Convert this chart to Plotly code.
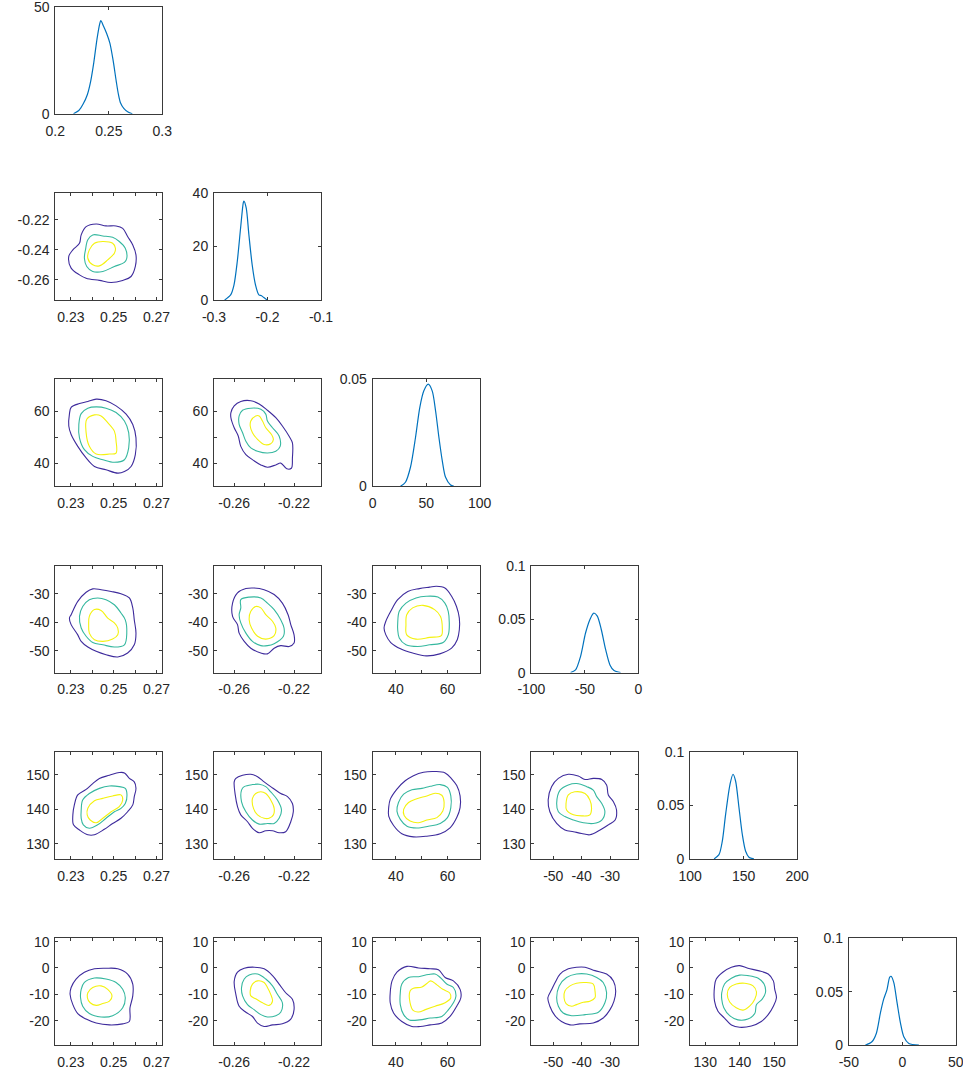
import plotly.graph_objects as go

# ---------------- data ----------------
# axis ranges of the six parameters (off-diagonal panels)
P_RANGE = {1: [0.2227, 0.2727], 2: [-0.2735, -0.2020], 3: [31.0, 72.5],
           4: [-57.7, -20.0], 5: [125.6, 156.7], 6: [-29.3, 11.3]}
# tick values / labels when the parameter is on the x axis
X_TICKS = {1: ([0.23, 0.24, 0.25, 0.26, 0.27], ["0.23", "", "0.25", "", "0.27"]),
           2: ([-0.26, -0.24, -0.22], ["-0.26", "", "-0.22"]),
           3: ([40, 50, 60], ["40", "", "60"]),
           4: ([-50, -40, -30], ["-50", "-40", "-30"]),
           5: ([130, 140, 150], ["130", "140", "150"])}
# tick values / labels when the parameter is on the y axis
Y_TICKS = {2: ([-0.26, -0.24, -0.22], ["-0.26", "-0.24", "-0.22"]),
           3: ([40, 50, 60], ["40", "", "60"]),
           4: ([-50, -40, -30], ["-50", "-40", "-30"]),
           5: ([130, 140, 150], ["130", "140", "150"]),
           6: ([-20, -10, 0, 10], ["-20", "-10", "0", "10"])}

# diagonal (marginal density) panels
DIAG_XRANGE = {1: [0.2, 0.3], 2: [-0.3, -0.1], 3: [0, 100], 4: [-100, 0], 5: [100, 200], 6: [-50, 50]}
DIAG_YRANGE = {1: [0, 50], 2: [0, 40], 3: [0, 0.05], 4: [0, 0.1], 5: [0, 0.1], 6: [0, 0.1]}
DIAG_XTICKS = {1: ([0.2, 0.25, 0.3], ["0.2", "0.25", "0.3"]),
               2: ([-0.3, -0.2, -0.1], ["-0.3", "-0.2", "-0.1"]),
               3: ([0, 50, 100], ["0", "50", "100"]),
               4: ([-100, -50, 0], ["-100", "-50", "0"]),
               5: ([100, 150, 200], ["100", "150", "200"]),
               6: ([-50, 0, 50], ["-50", "0", "50"])}
DIAG_YTICKS = {1: ([0, 50], ["0", "50"]),
               2: ([0, 20, 40], ["0", "20", "40"]),
               3: ([0, 0.05], ["0", "0.05"]),
               4: ([0, 0.05, 0.1], ["0", "0.05", "0.1"]),
               5: ([0, 0.05, 0.1], ["0", "0.05", "0.1"]),
               6: ([0, 0.05, 0.1], ["0", "0.05", "0.1"])}

D1_X = [0.217, 0.222, 0.226, 0.230, 0.233, 0.236, 0.239, 0.2415, 0.2425, 0.245, 0.248, 0.251, 0.254, 0.257, 0.259, 0.261, 0.264, 0.268, 0.272]
D1_Y = [0, 1.5, 4.5, 9, 15, 24, 35, 42, 43.5, 41, 37.5, 33, 25, 15, 9, 5, 2.5, 0.8, 0]
D2_X = [-0.2801, -0.2689, -0.2627, -0.2565, -0.2503, -0.2453, -0.2441, -0.2398, -0.2348, -0.2286, -0.2224, -0.2161, -0.2112, -0.2068, -0.2006]
D2_Y = [0, 1.9, 5.6, 14.4, 26.9, 36.3, 37.0, 34.4, 24.4, 13.1, 5.6, 1.9, 1.6, 0.9, 0]
D3_X = [26, 30.6, 35.3, 40, 44, 47.8, 51.9, 55.6, 58.75, 61.9, 65, 68.1, 72.8, 75.9]
D3_Y = [0, 0.0019, 0.0089, 0.0228, 0.0368, 0.0446, 0.0477, 0.0446, 0.0353, 0.0228, 0.012, 0.0042, 0.0006, 0]
D4_X = [-63.4, -58.75, -54.1, -49.4, -45.3, -42.2, -41.6, -38.4, -34.7, -30.6, -26.6, -22.8, -16.6]
D4_Y = [0, 0.0025, 0.015, 0.037, 0.0497, 0.0553, 0.0557, 0.0528, 0.0403, 0.0214, 0.0072, 0.0019, 0]
D5_X = [122.4, 127, 130.1, 133.2, 137.3, 140.1, 142.5, 145.7, 148.8, 151.9, 155, 159.6]
D5_Y = [0, 0.004, 0.0166, 0.0416, 0.0697, 0.0791, 0.0728, 0.0478, 0.0228, 0.0072, 0.0016, 0]
D6_X = [-34.6, -28.4, -24.3, -20.5, -17.4, -14.3, -11.8, -10.5, -8, -4.9, -1.7, 1.4, 6.1, 15.5]
D6_Y = [0, 0.0032, 0.011, 0.030, 0.043, 0.052, 0.0635, 0.0644, 0.0587, 0.0397, 0.0206, 0.0079, 0.0016, 0]

# contour lines: [outer, middle, inner] for each (row param, column param)
C21_X = [[0.2371, 0.2418, 0.2464, 0.2511, 0.2542, 0.2565, 0.2589, 0.2604, 0.2601, 0.2581, 0.2542, 0.2488, 0.2433, 0.2371, 0.2340, 0.2301, 0.2290, 0.2309, 0.2340, 0.2348],
         [0.2379, 0.2402, 0.2449, 0.2495, 0.2526, 0.2554, 0.2561, 0.2550, 0.2503, 0.2449, 0.2402, 0.2374, 0.2363, 0.2368],
         [0.2410, 0.2449, 0.2495, 0.2508, 0.2503, 0.2472, 0.2433, 0.2402, 0.2379, 0.2386]]
C21_Y = [[-0.2245, -0.2227, -0.2240, -0.2240, -0.2256, -0.2311, -0.2367, -0.2433, -0.2511, -0.2578, -0.2604, -0.2618, -0.2604, -0.2589, -0.2567, -0.2522, -0.2444, -0.2400, -0.2356, -0.2300],
         [-0.2333, -0.2300, -0.2307, -0.2316, -0.2344, -0.2389, -0.2456, -0.2484, -0.2511, -0.2544, -0.2544, -0.2511, -0.2456, -0.2400],
         [-0.2356, -0.2344, -0.2356, -0.2389, -0.2422, -0.2467, -0.2507, -0.2500, -0.2456, -0.2400]]

C31_X = [[0.2301, 0.2340, 0.2379, 0.2418, 0.2464, 0.2511, 0.2558, 0.2589, 0.2604, 0.2601, 0.2581, 0.2550, 0.2519, 0.2464, 0.2410, 0.2371, 0.2332, 0.2301, 0.2290, 0.2293],
         [0.2348, 0.2379, 0.2418, 0.2464, 0.2511, 0.2550, 0.2570, 0.2570, 0.2550, 0.2503, 0.2449, 0.2402, 0.2363, 0.2340, 0.2337],
         [0.2374, 0.2410, 0.2441, 0.2472, 0.2503, 0.2511, 0.2511, 0.2480, 0.2418, 0.2386, 0.2371]]
C31_Y = [[61.6, 63.1, 63.9, 64.8, 64.2, 62.2, 59.0, 55.0, 49.8, 43.3, 38.7, 36.7, 36.1, 37.4, 38.7, 42.0, 46.5, 51.1, 54.4, 59.0],
         [59.2, 61.3, 61.8, 61.3, 59.6, 56.3, 51.8, 45.9, 41.3, 40.3, 41.3, 42.6, 45.2, 49.8, 55.0],
         [57.0, 58.7, 58.3, 55.7, 52.4, 48.5, 43.9, 43.5, 43.5, 46.5, 51.8]]

C32_X = [[-0.2622, -0.2600, -0.2556, -0.2489, -0.2433, -0.2378, -0.2322, -0.2278, -0.2233, -0.2211, -0.2211, -0.2218, -0.2249, -0.2289, -0.2322, -0.2378, -0.2422, -0.2467, -0.2522, -0.2556, -0.2573, -0.2600, -0.2622],
         [-0.2567, -0.2544, -0.2489, -0.2422, -0.2389, -0.2378, -0.2344, -0.2300, -0.2293, -0.2322, -0.2378, -0.2444, -0.2489, -0.2522, -0.2544, -0.2567],
         [-0.2489, -0.2456, -0.2433, -0.2411, -0.2389, -0.2351, -0.2338, -0.2356, -0.2400, -0.2444, -0.2478, -0.2493]]
C32_Y = [[59.6, 62.2, 63.9, 64.2, 62.9, 60.5, 57.6, 54.4, 50.4, 47.8, 42.0, 38.0, 37.8, 40.0, 39.3, 38.4, 39.3, 40.9, 43.3, 46.5, 50.5, 53.7, 57.6],
         [58.3, 60.5, 61.3, 60.9, 59.0, 56.3, 53.7, 50.5, 46.5, 44.6, 43.9, 44.6, 45.9, 48.5, 51.8, 55.0],
         [56.3, 58.3, 58.3, 56.3, 53.7, 51.1, 49.2, 47.5, 47.2, 49.2, 51.8, 54.4]]

C41_X = [[0.2301, 0.2332, 0.2371, 0.2402, 0.2441, 0.2488, 0.2534, 0.2573, 0.2589, 0.2596, 0.2604, 0.2596, 0.2565, 0.2519, 0.2464, 0.2418, 0.2379, 0.2348, 0.2332, 0.2301, 0.2293],
         [0.2340, 0.2355, 0.2386, 0.2425, 0.2464, 0.2503, 0.2534, 0.2554, 0.2561, 0.2550, 0.2503, 0.2449, 0.2402, 0.2371, 0.2348],
         [0.2386, 0.2410, 0.2441, 0.2472, 0.2503, 0.2519, 0.2519, 0.2495, 0.2449, 0.2410, 0.2386, 0.2383]]
C41_Y = [[-37.3, -32.6, -29.4, -28.2, -28.5, -29.1, -29.9, -31.4, -34.9, -39.1, -43.8, -47.9, -50.8, -52.2, -51.4, -50.2, -48.7, -46.7, -44.4, -40.8, -38.5],
         [-37.9, -34.4, -32.0, -31.4, -32.0, -33.8, -36.7, -39.1, -43.8, -47.9, -48.7, -47.9, -47.1, -44.9, -42.0],
         [-37.9, -35.5, -35.8, -38.5, -40.2, -42.0, -44.4, -45.9, -46.7, -46.1, -43.8, -40.8]]

C42_X = [[-0.2611, -0.2578, -0.2522, -0.2467, -0.2400, -0.2333, -0.2278, -0.2240, -0.2222, -0.2200, -0.2200, -0.2233, -0.2289, -0.2333, -0.2378, -0.2422, -0.2489, -0.2533, -0.2567, -0.2578, -0.2611],
         [-0.2556, -0.2556, -0.2500, -0.2422, -0.2378, -0.2333, -0.2289, -0.2267, -0.2271, -0.2333, -0.2378, -0.2422, -0.2478, -0.2522, -0.2556, -0.2567],
         [-0.2489, -0.2456, -0.2422, -0.2389, -0.2344, -0.2322, -0.2333, -0.2389, -0.2444, -0.2484, -0.2500]]
C42_Y = [[-33.2, -29.6, -28.1, -27.9, -28.5, -30.2, -33.2, -37.3, -40.8, -44.4, -47.3, -48.5, -48.2, -49.1, -51.1, -50.8, -49.1, -46.7, -43.8, -40.8, -37.9],
         [-34.9, -32.0, -31.1, -31.4, -33.2, -35.5, -39.1, -42.0, -44.9, -47.5, -48.2, -48.2, -46.7, -43.8, -40.2, -37.3],
         [-36.1, -34.4, -34.9, -37.3, -39.6, -42.0, -44.7, -45.9, -44.9, -42.0, -39.1]]

C43_X = [[36.1, 38.0, 40.7, 44.6, 49.1, 53.1, 55.7, 59.0, 61.6, 63.5, 64.6, 64.6, 63.8, 61.6, 57.0, 51.8, 46.5, 42.0, 38.0, 36.1, 35.4],
         [40.7, 41.3, 43.9, 47.8, 51.8, 56.3, 59.0, 60.3, 60.7, 60.3, 58.3, 53.1, 48.5, 43.9, 41.3, 40.7],
         [44.2, 46.5, 50.5, 55.0, 57.3, 58.0, 57.6, 53.1, 47.8, 44.2, 43.9]]
C43_Y = [[-39.6, -36.1, -32.0, -29.1, -28.1, -27.6, -27.3, -27.9, -30.8, -34.4, -38.5, -42.6, -46.1, -49.1, -51.1, -51.8, -50.8, -49.4, -47.1, -44.4, -42.0],
         [-40.2, -36.1, -33.2, -31.4, -30.8, -31.1, -33.2, -36.1, -40.2, -44.4, -47.1, -47.9, -48.5, -47.9, -45.5, -42.6],
         [-37.3, -34.9, -34.0, -35.5, -37.9, -42.0, -44.7, -45.3, -45.9, -44.4, -40.8]]

C51_X = [[0.2316, 0.2332, 0.2371, 0.2402, 0.2433, 0.2480, 0.2526, 0.2550, 0.2573, 0.2596, 0.2604, 0.2596, 0.2589, 0.2565, 0.2534, 0.2495, 0.2456, 0.2410, 0.2379, 0.2340, 0.2312, 0.2309],
         [0.2348, 0.2355, 0.2386, 0.2433, 0.2480, 0.2526, 0.2554, 0.2562, 0.2554, 0.2534, 0.2503, 0.2464, 0.2425, 0.2386, 0.2358, 0.2348],
         [0.2379, 0.2410, 0.2449, 0.2495, 0.2534, 0.2542, 0.2526, 0.2488, 0.2449, 0.2418, 0.2390, 0.2376]]
C51_Y = [[141.3, 144.2, 145.8, 147.5, 149.0, 149.9, 150.7, 150.6, 149.0, 148.0, 146.1, 143.7, 141.3, 139.3, 137.4, 135.9, 134.2, 132.6, 132.6, 134.0, 135.5, 138.4],
         [139.8, 142.7, 144.6, 146.1, 146.8, 146.6, 146.1, 144.2, 141.7, 140.3, 139.3, 137.4, 135.5, 134.5, 135.5, 137.4],
         [140.3, 142.5, 143.2, 143.9, 144.2, 142.7, 140.8, 139.3, 137.4, 136.1, 136.9, 138.4]]

C52_X = [[-0.2600, -0.2589, -0.2544, -0.2489, -0.2444, -0.2400, -0.2356, -0.2289, -0.2244, -0.2211, -0.2205, -0.2222, -0.2256, -0.2300, -0.2344, -0.2389, -0.2433, -0.2478, -0.2511, -0.2556, -0.2578, -0.2593],
         [-0.2551, -0.2533, -0.2478, -0.2433, -0.2389, -0.2356, -0.2311, -0.2284, -0.2300, -0.2333, -0.2378, -0.2433, -0.2478, -0.2522, -0.2551],
         [-0.2478, -0.2456, -0.2422, -0.2389, -0.2356, -0.2333, -0.2338, -0.2367, -0.2400, -0.2444, -0.2471]]
C52_Y = [[148.0, 149.0, 149.9, 150.2, 149.5, 148.0, 146.6, 144.6, 143.7, 141.7, 139.3, 136.4, 133.5, 133.2, 133.8, 133.8, 133.2, 134.5, 136.4, 138.4, 140.8, 144.2],
         [145.6, 146.6, 147.2, 147.3, 146.6, 145.1, 142.7, 139.8, 137.4, 135.9, 135.9, 135.7, 136.9, 139.3, 142.2],
         [143.2, 144.6, 145.1, 144.6, 142.7, 140.3, 138.4, 137.4, 137.4, 138.4, 140.3]]

C53_X = [[37.2, 37.8, 40.4, 43.6, 46.8, 50.7, 55.2, 59.1, 61.7, 63.6, 64.9, 64.9, 63.6, 61.0, 57.2, 52.0, 46.8, 42.3, 39.1, 37.2],
         [40.4, 41.0, 43.0, 46.2, 50.1, 53.3, 57.2, 60.0, 61.3, 61.3, 60.0, 57.2, 52.6, 48.1, 44.3, 41.7],
         [43.0, 44.9, 48.1, 52.0, 55.2, 57.8, 58.7, 58.2, 55.9, 52.0, 48.8, 45.5, 43.2]]
C53_Y = [[140.5, 142.9, 145.9, 148.3, 149.8, 150.8, 151.0, 150.6, 148.8, 146.9, 143.9, 140.5, 137.6, 134.6, 132.9, 132.2, 132.0, 132.9, 135.3, 138.0],
         [139.5, 142.0, 144.4, 145.7, 146.1, 146.7, 147.2, 146.4, 143.9, 140.5, 137.6, 135.9, 135.1, 134.6, 135.1, 137.1],
         [140.0, 142.0, 143.1, 143.9, 144.7, 144.1, 142.0, 139.5, 137.6, 136.9, 136.1, 136.6, 138.2]]

C54_X = [[-51.8, -50.6, -48.2, -44.7, -41.2, -38.8, -35.9, -32.9, -31.2, -30.6, -28.8, -27.7, -28.2, -30.6, -33.5, -37.1, -40.0, -42.9, -45.9, -48.8, -51.2],
         [-48.8, -47.6, -44.7, -41.8, -38.2, -35.9, -34.7, -32.9, -31.8, -32.9, -35.9, -39.4, -42.9, -45.9, -48.2],
         [-45.5, -44.7, -42.4, -38.8, -37.1, -36.5, -37.1, -40.0, -42.9, -45.3]]
C54_Y = [[142.7, 146.6, 149.0, 150.2, 149.7, 148.7, 149.0, 148.7, 147.1, 144.2, 142.2, 139.8, 136.9, 135.5, 134.0, 132.6, 133.0, 133.5, 134.0, 135.9, 139.3],
         [141.7, 145.6, 147.1, 147.5, 146.6, 145.6, 143.7, 141.7, 139.3, 136.9, 135.9, 136.1, 136.9, 137.9, 139.3],
         [141.7, 144.2, 145.1, 144.6, 142.7, 140.3, 138.4, 138.1, 138.4, 139.8]]

C61_X = [[0.2301, 0.2324, 0.2363, 0.2410, 0.2464, 0.2519, 0.2565, 0.2589, 0.2589, 0.2576, 0.2573, 0.2542, 0.2480, 0.2418, 0.2371, 0.2332, 0.2309, 0.2296],
         [0.2348, 0.2363, 0.2410, 0.2464, 0.2511, 0.2542, 0.2554, 0.2542, 0.2495, 0.2441, 0.2386, 0.2355, 0.2345],
         [0.2379, 0.2402, 0.2441, 0.2472, 0.2492, 0.2480, 0.2449, 0.2418, 0.2390, 0.2377]]
C61_Y = [[-7.4, -4.2, -1.6, -0.3, -0.1, -0.3, -2.3, -6.1, -10.6, -15.1, -20.3, -21.2, -21.6, -20.9, -19.4, -17.3, -13.9, -10.0],
         [-8.1, -5.5, -3.8, -4.2, -5.5, -8.1, -11.3, -15.1, -18.1, -18.6, -17.3, -14.5, -11.3],
         [-9.4, -7.4, -6.8, -8.1, -10.6, -12.6, -13.5, -14.2, -13.2, -11.3]]

C62_X = [[-0.2600, -0.2578, -0.2533, -0.2467, -0.2400, -0.2344, -0.2300, -0.2256, -0.2211, -0.2200, -0.2222, -0.2278, -0.2344, -0.2400, -0.2444, -0.2478, -0.2522, -0.2567, -0.2589],
         [-0.2551, -0.2533, -0.2500, -0.2444, -0.2389, -0.2344, -0.2311, -0.2278, -0.2289, -0.2322, -0.2378, -0.2422, -0.2467, -0.2511, -0.2544],
         [-0.2493, -0.2478, -0.2444, -0.2400, -0.2378, -0.2356, -0.2344, -0.2367, -0.2411, -0.2456, -0.2489]]
C62_Y = [[-5.1, -1.6, -0.1, 0.3, -0.3, -2.9, -6.1, -9.4, -11.9, -15.8, -19.4, -21.2, -21.6, -22.2, -20.9, -18.4, -16.8, -14.5, -10.0],
         [-7.4, -4.2, -2.7, -2.3, -4.2, -6.8, -10.0, -13.2, -16.8, -18.1, -18.6, -17.7, -15.8, -13.9, -10.6],
         [-8.7, -6.1, -4.9, -5.5, -7.4, -10.0, -12.6, -14.2, -13.2, -11.7, -10.6]]

C63_X = [[37.8, 38.5, 40.4, 44.3, 48.8, 53.3, 56.5, 59.1, 62.3, 64.9, 65.2, 63.6, 61.0, 57.8, 53.3, 49.4, 46.2, 42.3, 39.1, 37.8],
         [41.7, 42.3, 44.9, 48.8, 52.6, 55.2, 57.2, 59.7, 62.3, 63.3, 62.3, 60.4, 57.8, 53.3, 49.1, 45.2, 43.0, 41.7],
         [45.5, 46.8, 50.1, 52.0, 53.5, 55.9, 58.2, 60.8, 61.3, 59.1, 55.2, 51.4, 48.8, 46.8, 45.5]]
C63_Y = [[-9.4, -4.9, -1.6, 0.6, 0.0, -0.3, -0.7, -3.6, -4.9, -8.1, -11.3, -14.5, -18.4, -20.9, -21.6, -22.2, -22.2, -20.3, -17.1, -13.2],
         [-9.4, -6.1, -3.6, -3.3, -2.5, -2.3, -3.6, -6.1, -7.4, -10.6, -13.2, -15.8, -18.4, -19.0, -19.7, -19.7, -17.7, -13.9],
         [-8.7, -7.7, -7.2, -5.9, -4.9, -6.4, -8.1, -9.4, -11.3, -13.2, -14.5, -15.8, -16.7, -16.2, -13.2]]

C64_X = [[-50.6, -49.2, -47.6, -44.7, -41.8, -38.8, -35.3, -31.2, -28.8, -28.0, -28.6, -30.0, -32.4, -35.9, -40.6, -44.1, -47.1, -49.4, -51.2, -51.9],
         [-48.8, -47.9, -45.3, -41.8, -38.2, -34.7, -32.4, -31.2, -31.8, -34.1, -38.8, -43.5, -46.5, -48.2],
         [-45.9, -44.1, -41.8, -38.8, -35.9, -35.3, -35.3, -37.1, -39.4, -41.8, -43.5, -45.5, -46.2]]
C64_Y = [[-8.3, -5.2, -2.3, -0.3, 0.3, 0.3, -1.0, -2.3, -4.9, -8.7, -12.6, -15.8, -19.0, -20.9, -21.2, -21.6, -20.3, -18.1, -14.5, -11.3],
         [-11.3, -6.8, -3.6, -2.3, -2.3, -3.6, -5.5, -9.4, -13.2, -16.8, -17.7, -18.1, -17.1, -14.5],
         [-8.7, -6.8, -5.8, -5.5, -6.1, -8.7, -11.3, -12.6, -13.0, -13.9, -14.5, -13.5, -11.3]]

C65_X = [[132.7, 133.2, 135.1, 137.6, 140.0, 142.4, 145.4, 148.3, 149.8, 150.2, 150.7, 149.8, 148.3, 146.3, 143.4, 140.0, 137.6, 135.6, 133.7, 132.7],
         [134.8, 135.6, 137.6, 140.0, 142.4, 145.4, 147.1, 147.5, 146.5, 144.9, 144.4, 142.4, 139.5, 137.1, 135.4, 134.8],
         [136.4, 137.1, 139.0, 141.5, 143.9, 144.9, 144.4, 142.9, 141.0, 139.0, 137.1]]
C65_Y = [[-7.0, -4.2, -1.6, 0.3, 0.9, -0.1, -1.0, -2.3, -4.9, -8.1, -11.3, -14.5, -17.7, -20.3, -22.0, -22.5, -21.6, -19.0, -16.4, -12.6],
         [-9.4, -6.1, -3.9, -2.7, -2.9, -3.9, -6.1, -9.4, -11.9, -13.9, -17.3, -19.4, -19.7, -18.1, -15.1, -11.9],
         [-10.0, -7.4, -6.1, -5.8, -6.8, -9.1, -11.9, -14.5, -16.0, -15.1, -12.9]]

DIAG_DATA = {1: (D1_X, D1_Y), 2: (D2_X, D2_Y), 3: (D3_X, D3_Y),
             4: (D4_X, D4_Y), 5: (D5_X, D5_Y), 6: (D6_X, D6_Y)}
CONTOURS = {(2, 1): (C21_X, C21_Y), (3, 1): (C31_X, C31_Y), (3, 2): (C32_X, C32_Y),
            (4, 1): (C41_X, C41_Y), (4, 2): (C42_X, C42_Y), (4, 3): (C43_X, C43_Y),
            (5, 1): (C51_X, C51_Y), (5, 2): (C52_X, C52_Y), (5, 3): (C53_X, C53_Y), (5, 4): (C54_X, C54_Y),
            (6, 1): (C61_X, C61_Y), (6, 2): (C62_X, C62_Y), (6, 3): (C63_X, C63_Y),
            (6, 4): (C64_X, C64_Y), (6, 5): (C65_X, C65_Y)}

# ---------------- styling / layout ----------------
W, H = 963, 1074
PANEL = 107.0
COL0, COLSTEP = 55.3, 158.7
ROW0, ROWSTEP = 6.7, 186.3
LEVEL_COLORS = ["#3e2b9c", "#36b89f", "#f4f20f"]
DIAG_COLOR = "#0072BD"
AX_COLOR = "#3a3a3a"
TXT_COLOR = "#262626"
FONT = dict(family="Liberation Sans, Arial, Helvetica, sans-serif", size=14, color=TXT_COLOR)

fig = go.Figure()
layout = dict(width=W, height=H, margin=dict(l=0, r=0, t=0, b=0, pad=0), autosize=False,
              paper_bgcolor="white", plot_bgcolor="white", showlegend=False, font=FONT)


def pad(rng):
    e = (rng[1] - rng[0]) * 1e-6
    return [rng[0] - e, rng[1] + e]


def axis_common():
    return dict(showline=True, mirror="ticks", linecolor=AX_COLOR, linewidth=1,
                ticks="inside", ticklen=3, tickwidth=1, tickcolor=AX_COLOR,
                showgrid=False, zeroline=False, tickfont=FONT, fixedrange=True,
                automargin=False, ticklabeloverflow="allow")


k = 0
for r in range(1, 7):
    for c in range(1, r + 1):
        k += 1
        x0 = (COL0 + COLSTEP * (c - 1)) / W
        x1 = (COL0 + COLSTEP * (c - 1) + PANEL) / W
        ytop = ROW0 + ROWSTEP * (r - 1)
        y1 = 1 - ytop / H
        y0 = 1 - (ytop + PANEL) / H
        xa = axis_common()
        ya = axis_common()
        xn = "x" if k == 1 else f"x{k}"
        yn = "y" if k == 1 else f"y{k}"
        if r == c:
            xr, yr = DIAG_XRANGE[r], DIAG_YRANGE[r]
            xt, yt = DIAG_XTICKS[r], DIAG_YTICKS[r]
            dx, dy = DIAG_DATA[r]
            fig.add_trace(go.Scatter(x=dx, y=dy, mode="lines", xaxis=xn, yaxis=yn,
                                     line=dict(color=DIAG_COLOR, width=1.2, shape="spline", smoothing=0.8),
                                     hoverinfo="skip"))
        else:
            xr, yr = P_RANGE[c], P_RANGE[r]
            xt, yt = X_TICKS[c], Y_TICKS[r]
            cx, cy = CONTOURS[(r, c)]
            for lev in range(3):
                xs = list(cx[lev]) + [cx[lev][0]]
                ys = list(cy[lev]) + [cy[lev][0]]
                fig.add_trace(go.Scatter(x=xs, y=ys, mode="lines", xaxis=xn, yaxis=yn,
                                         line=dict(color=LEVEL_COLORS[lev], width=1.1,
                                                   shape="spline", smoothing=1.0),
                                         hoverinfo="skip"))
        xa.update(domain=[x0, x1], range=pad(xr), tickvals=xt[0], ticktext=xt[1],
                  anchor=yn, ticklabelstandoff=4)
        ya.update(domain=[y0, y1], range=pad(yr), tickvals=yt[0], ticktext=yt[1],
                  anchor=xn, ticklabelstandoff=2)
        layout["xaxis" if k == 1 else f"xaxis{k}"] = xa
        layout["yaxis" if k == 1 else f"yaxis{k}"] = ya

fig.update_layout(**layout)
fig.write_html("out.html", config={"displayModeBar": False},
               post_script="document.body.style.margin='0';document.body.style.padding='0';")
